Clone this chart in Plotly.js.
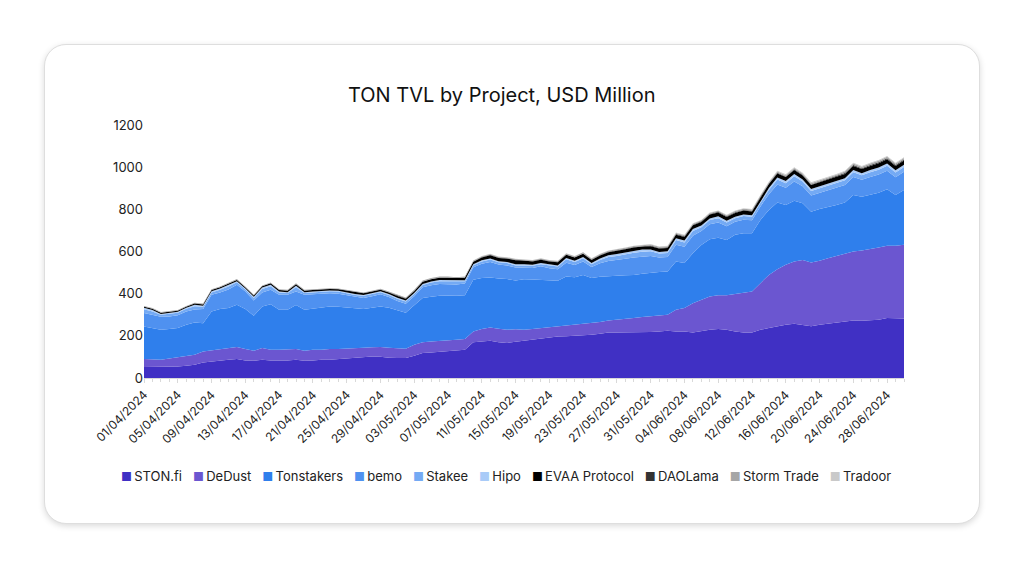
<!DOCTYPE html>
<html>
<head>
<meta charset="utf-8">
<script src="https://cdn.plot.ly/plotly-3.0.1.min.js"></script>
<style>
  body { margin: 0; background: #ffffff; width: 1024px; height: 569px; overflow: hidden; }
  #card {
    position: absolute; left: 44px; top: 44px; width: 934px; height: 478px;
    background: #fff; border: 1px solid #dedede; border-radius: 22px;
    box-shadow: 0 2px 6px rgba(0,0,0,0.15);
  }
  #plot { position: absolute; left: 0; top: 0; width: 1024px; height: 569px; }
</style>
</head>
<body>
<div id="card"></div>
<div id="plot"></div>
<script>
// daily TVL, USD million, 01/04/2024 .. 30/06/2024
var stonfi = [52,52,52,54,55,58,63,74,79,82,
  87,90,83,82,87,83,82,83,87,82,
  83,87,87,90,95,99,100,102,101,96,
  95,95,105,118,121,125,128,130,134,169,
  172,177,170,166,172,177,180,185,190,197,
  198,200,202,205,210,216,216,216,216,216,
  218,221,224,221,221,216,224,229,232,229,
  221,216,216,229,237,245,252,257,252,245,
  252,257,260,268,273,271,273,276,284,284,
  282];
var dedust = [38,36,35,38,44,46,47,52,52,54,
  55,57,54,47,55,51,52,51,50,47,
  51,47,51,48,44,42,43,44,46,48,
  47,44,53,51,52,52,52,52,51,52,
  60,63,64,63,59,52,53,52,50,47,
  50,52,54,55,56,57,60,63,68,73,
  74,74,76,103,111,139,147,158,161,163,
  178,189,194,221,252,271,285,295,308,303,
  304,311,319,321,327,334,338,343,343,343,
  350];
var tonstakers = [154,148,142,140,138,148,153,134,184,191,
  190,200,190,166,197,216,190,190,209,195,
  194,198,201,200,195,189,184,187,192,189,
  178,171,187,210,212,213,211,208,208,245,
  242,237,238,240,231,239,234,229,223,217,
  233,226,233,214,214,211,209,208,205,206,
  208,208,205,229,213,237,260,271,272,263,
  280,282,277,300,308,316,284,289,269,241,
  245,242,242,243,268,255,257,260,268,241,
  260];
var bemo = [64,64,61,60,61,63,62,67,80,78,
  88,95,83,73,66,68,71,71,64,71,
  70,67,63,62,60,55,53,55,58,51,
  45,42,43,51,55,56,55,54,55,59,
  68,73,66,65,62,56,55,64,58,55,
  66,58,63,53,64,71,74,79,83,82,
  79,68,69,79,77,83,66,71,73,65,
  62,64,61,64,75,86,81,91,81,77,
  78,80,81,84,85,80,85,86,88,84,
  86];
var stakee = [18,16,10,11,11,13,15,11,11,13,
  14,12,10,12,17,17,10,8,20,8,
  8,10,9,10,8,9,10,10,10,10,
  11,11,10,11,13,13,13,13,11,10,
  11,12,11,11,10,10,10,10,12,13,
  16,14,16,13,16,19,20,21,22,22,
  22,19,19,22,21,22,18,20,20,18,
  17,17,17,17,20,23,22,25,22,21,
  21,22,22,22,23,22,23,23,24,23,
  23];
var hipo = [7,7,4,5,5,5,7,5,5,6,
  6,5,4,5,7,7,5,4,8,4,
  4,4,4,4,4,4,4,4,4,4,
  5,5,5,5,5,6,6,5,5,4,
  5,5,5,5,5,5,5,5,5,5,
  6,6,6,6,7,8,9,9,10,10,
  9,8,8,9,9,10,8,8,9,8,
  7,8,7,8,9,10,10,11,10,9,
  9,9,9,10,10,9,10,10,10,10,
  10];
var evaa = [5,5,5,5,5,5,6,6,6,6,
  6,6,6,6,6,7,7,7,7,7,
  7,7,7,7,8,8,8,8,8,8,
  8,8,9,10,10,10,10,10,11,12,
  14,15,15,16,20,18,16,16,15,15,
  15,15,15,14,14,15,15,15,15,15,
  15,16,16,17,17,17,17,18,18,18,
  18,18,18,18,19,19,19,19,19,19,
  19,19,20,20,20,20,20,21,21,21,
  21];
var daolama = [1,1,1,1,1,1,1,1,1,1,
  1,1,1,1,1,1,1,1,1,1,
  1,1,1,1,1,1,1,1,1,1,
  2,2,2,2,2,2,2,2,2,2,
  2,2,2,2,2,2,2,2,2,2,
  2,2,2,2,2,2,2,2,2,2,
  3,3,3,3,3,3,3,3,3,3,
  3,3,3,3,3,3,3,3,3,3,
  4,4,4,4,4,4,4,4,4,4,
  4];
var stormtrade = [3,3,3,3,3,3,3,3,3,3,
  3,3,3,3,3,3,3,3,3,3,
  3,3,3,3,3,3,3,3,3,3,
  4,4,4,4,4,4,4,4,4,4,
  4,4,4,4,4,4,4,4,4,4,
  5,5,5,5,5,5,5,5,5,5,
  5,5,5,5,5,5,5,5,5,5,
  6,6,6,6,6,6,6,6,6,6,
  7,7,7,7,7,7,7,7,7,7,
  7];
var tradoor = [0,0,0,0,0,0,0,0,0,0,
  0,0,0,0,0,0,0,0,0,0,
  0,0,0,0,0,0,0,0,0,0,
  0,0,0,0,0,0,0,0,0,0,
  1,1,1,1,1,1,1,1,1,1,
  1,1,1,1,1,1,1,1,1,1,
  2,2,2,2,2,2,2,2,2,2,
  2,2,2,2,2,4,4,4,4,4,
  4,4,4,4,4,4,4,4,4,4,
  4];

var names = ["STON.fi", "DeDust", "Tonstakers", "bemo", "Stakee", "Hipo",
             "EVAA Protocol", "DAOLama", "Storm Trade", "Tradoor"];
var series = [stonfi, dedust, tonstakers, bemo, stakee, hipo,
              evaa, daolama, stormtrade, tradoor];
var colors = ["#4030c4", "#6b56d0", "#2f7fec", "#4f91f0", "#74aaf4", "#a9cbf8",
              "#000000", "#333333", "#a6a6a6", "#c9c9c9"];

// one date per day starting 1 April 2024
var dates = [];
for (var i = 0; i < stonfi.length; i++) {
  var d = new Date(Date.UTC(2024, 3, 1 + i));
  dates.push(d.toISOString().slice(0, 10));
}

var traces = [];
for (var k = 0; k < series.length; k++) {
  traces.push({
    x: dates,
    y: series[k],
    name: names[k],
    type: "scatter",
    mode: "lines",
    stackgroup: "one",
    line: { width: 0, color: colors[k] },
    fillcolor: colors[k],
    hoverinfo: "skip",
    showlegend: false
  });
}

// compact one-row legend (square + name), like the original
var legendParts = [];
for (var k = 0; k < names.length; k++) {
  legendParts.push('<span style="color:' + colors[k] + ';font-size:12px">■</span>' +
                   '<span style="font-size:8px">&nbsp;</span>' + names[k]);
}
var legendText = legendParts.join('&nbsp;&nbsp;&nbsp;');

var layout = {
  width: 1024,
  height: 569,
  paper_bgcolor: "rgba(0,0,0,0)",
  plot_bgcolor: "rgba(0,0,0,0)",
  font: { family: "Inter, sans-serif", color: "#222", size: 13 },
  margin: { l: 144, r: 120, t: 125, b: 191 },
  showlegend: false,
  title: {
    text: "TON TVL by Project, USD Million",
    font: { family: "Inter, sans-serif", size: 20, color: "#111" },
    x: 0.49, xanchor: "center",
    y: 0.833, yanchor: "middle"
  },
  xaxis: {
    type: "date",
    range: ["2024-04-01", "2024-06-30"],
    tick0: "2024-04-01",
    dtick: 4 * 86400000,
    tickformat: "%d/%m/%Y",
    tickangle: -45,
    tickfont: { size: 12, color: "#222" },
    showgrid: false,
    showline: true,
    linecolor: "#d9d9d9",
    linewidth: 1,
    ticks: "outside",
    ticklen: 4,
    tickcolor: "#d9d9d9",
    minor: { dtick: 86400000, ticks: "outside", ticklen: 3, tickcolor: "#d9d9d9", showgrid: false },
    fixedrange: true
  },
  yaxis: {
    range: [0, 1200],
    dtick: 200,
    showgrid: false,
    zeroline: false,
    showline: false,
    tickfont: { size: 13, color: "#222" },
    ticks: "",
    fixedrange: true
  },
  annotations: [{
    text: legendText,
    xref: "paper", yref: "paper",
    x: 0.4757, xanchor: "center",
    y: -0.387, yanchor: "middle",
    showarrow: false,
    font: { family: "Inter, sans-serif", size: 13, color: "#222" }
  }]
};

Plotly.newPlot("plot", traces, layout, { displayModeBar: false, staticPlot: true });
</script>
</body>
</html>
